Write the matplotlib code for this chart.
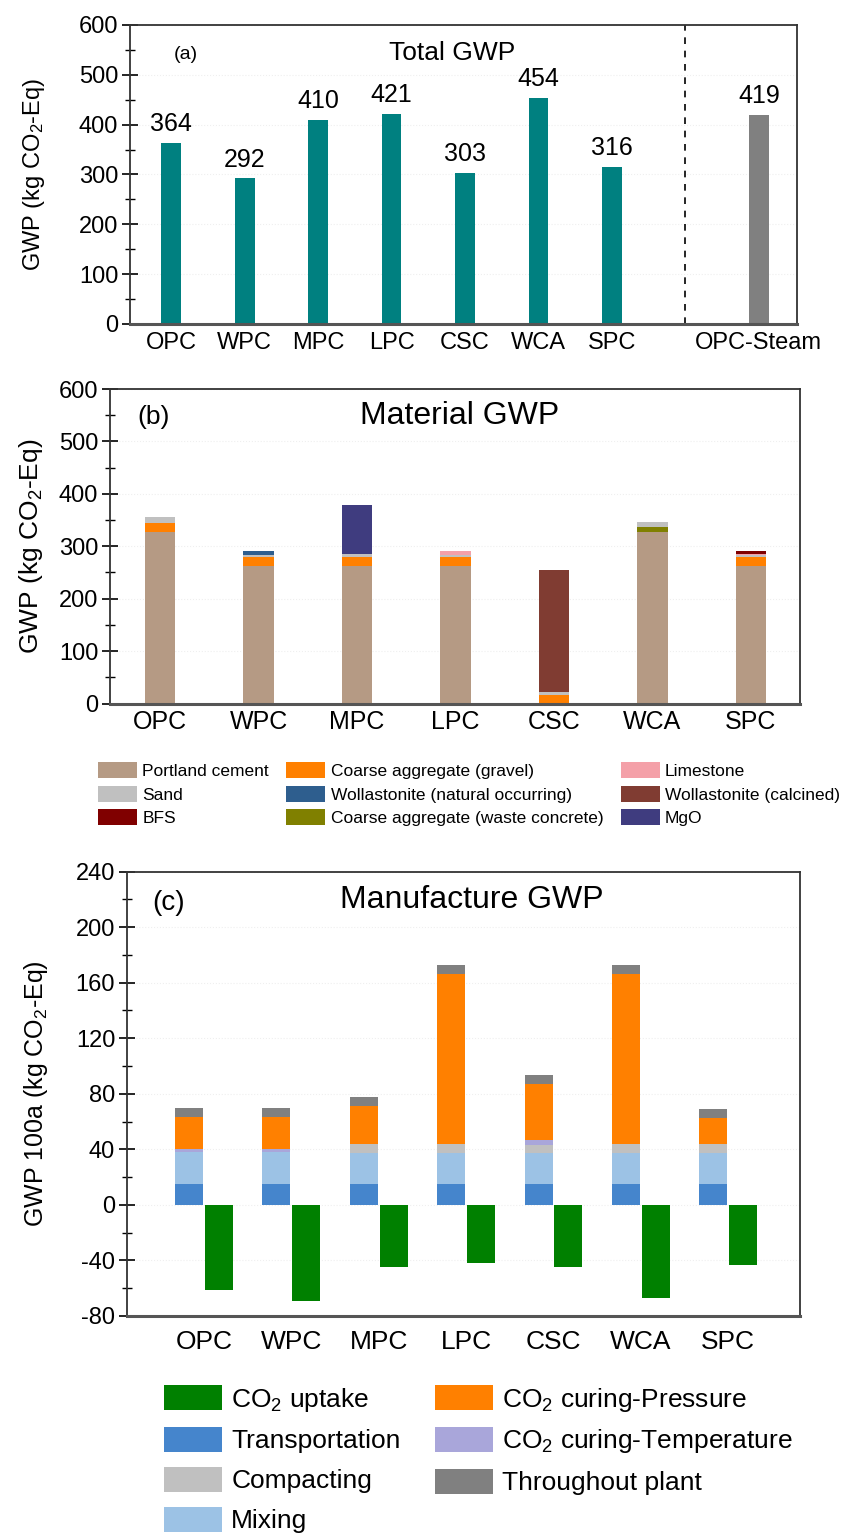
import numpy as np
import matplotlib
matplotlib.use("Agg")
import matplotlib.pyplot as plt
from matplotlib.patches import Patch
from matplotlib.ticker import MultipleLocator

plt.rcParams['font.family'] = ['Liberation Sans', 'DejaVu Sans']
plt.rcParams['mathtext.fontset'] = 'custom'
plt.rcParams['mathtext.rm'] = 'Liberation Sans'
plt.rcParams['mathtext.it'] = 'Liberation Sans:italic'
plt.rcParams['axes.unicode_minus'] = False

cats = ['OPC', 'WPC', 'MPC', 'LPC', 'CSC', 'WCA', 'SPC']

# (a) total GWP
total_gwp = [364, 292, 410, 421, 303, 454, 316]
steam_label = 'OPC-Steam'
steam_gwp = 419

# (b) material GWP, stacked bottom -> top
portland = [328, 263, 263, 263, 0, 327, 263]
gravel = [17, 17, 17, 17, 16, 0, 17]
waste_agg = [0, 0, 0, 0, 0, 10, 0]
sand = [10, 3, 6, 4, 5, 9, 3]
woll_nat = [0, 8, 0, 0, 0, 0, 0]
limestone = [0, 0, 0, 6, 0, 0, 3]
bfs = [0, 0, 0, 0, 0, 0, 5]
woll_calc = [0, 0, 0, 0, 233, 0, 0]
mgo = [0, 0, 92, 0, 0, 0, 0]

# (c) manufacture GWP
transport = [15, 15, 15, 15, 15, 15, 15]
mixing = [23, 23, 22, 22, 22, 22, 22]
compacting = [0, 0, 7, 7, 6, 7, 7]
cure_temp = [2, 2, 0, 0, 4, 0, 0]
cure_press = [23.5, 23.5, 27, 122, 40, 122, 18.5]
plant = [6.5, 6.5, 6.5, 7, 6.5, 7, 6.5]
uptake = [-61, -69, -45, -42, -45, -67, -43]

C_TEAL = '#008080'
C_STEAM = '#808080'
mat_series = [
    ('Portland cement', portland, '#b59a84'),
    ('Coarse aggregate (gravel)', gravel, '#ff8000'),
    ('Coarse aggregate (waste concrete)', waste_agg, '#808000'),
    ('Sand', sand, '#c0c0c0'),
    ('Wollastonite (natural occurring)', woll_nat, '#2e5e8e'),
    ('Limestone', limestone, '#f4a0a8'),
    ('BFS', bfs, '#800000'),
    ('Wollastonite (calcined)', woll_calc, '#803c32'),
    ('MgO', mgo, '#3f3c7f'),
]
mat_colors = {name: c for name, _, c in mat_series}
mat_legend_order = ['Portland cement', 'Sand', 'BFS',
                    'Coarse aggregate (gravel)', 'Wollastonite (natural occurring)',
                    'Coarse aggregate (waste concrete)',
                    'Limestone', 'Wollastonite (calcined)', 'MgO']

man_series = [
    ('Transportation', transport, '#4585cc'),
    ('Mixing', mixing, '#9cc2e5'),
    ('Compacting', compacting, '#c0c0c0'),
    ('CO$_2$ curing-Temperature', cure_temp, '#a9a6da'),
    ('CO$_2$ curing-Pressure', cure_press, '#ff8000'),
    ('Throughout plant', plant, '#808080'),
]
C_UPTAKE = '#008000'

fig = plt.figure(figsize=(8.46, 15.4), dpi=100)
W, H = 846.0, 1540.0


def box(l, t, r, b):
    return [l / W, 1 - b / H, (r - l) / W, (b - t) / H]


def style_axes(ax, minor):
    for s in ax.spines.values():
        s.set_color('#333333')
        s.set_linewidth(1.3)
    ax.spines['bottom'].set_linewidth(2.2)
    ax.spines['bottom'].set_color('#555555')
    ax.yaxis.set_minor_locator(MultipleLocator(minor))
    ax.tick_params(axis='y', which='major', direction='inout', length=11, width=1.2,
                   labelsize=17, pad=3)
    ax.tick_params(axis='y', which='minor', direction='inout', length=7, width=1.0)
    ax.tick_params(axis='x', length=0)
    ax.grid(axis='y', color='#efefef', linewidth=0.8, linestyle=':')
    ax.set_axisbelow(True)


# ---------- (a) ----------
axa = fig.add_axes(box(130, 25, 797, 324))
xa = np.arange(len(cats))
bars = axa.bar(xa, total_gwp, width=0.27, color=C_TEAL)
axa.bar_label(bars, labels=[str(v) for v in total_gwp], padding=5, fontsize=18)
sb = axa.bar([8], [steam_gwp], width=0.27, color=C_STEAM)
axa.bar_label(sb, labels=[str(steam_gwp)], padding=5, fontsize=18)
axa.axvline(7, color='black', linestyle=(0, (4, 4)), linewidth=1.2)
axa.set_xlim(-0.56, 8.52)
axa.set_ylim(0, 600)
axa.yaxis.set_major_locator(MultipleLocator(100))
style_axes(axa, 50)
axa.set_xticks(list(xa) + [8])
axa.set_xticklabels(cats + [steam_label], fontsize=17)
axa.tick_params(axis='x', pad=6)
axa.set_ylabel('GWP (kg CO$_2$-Eq)', fontsize=17)
axa.yaxis.set_label_coords(-0.125, 0.5)
axa.text(0.065, 0.9, '(a)', transform=axa.transAxes, fontsize=14, va='center')
axa.text(0.483, 0.906, 'Total GWP', transform=axa.transAxes, fontsize=19,
         ha='center', va='center')

# ---------- (b) ----------
axb = fig.add_axes(box(110, 389, 800, 703.5))
xb = np.arange(len(cats))
bottom = np.zeros(len(cats))
for name, vals, col in mat_series:
    v = np.array(vals, dtype=float)
    axb.bar(xb, v, width=0.31, bottom=bottom, color=col)
    bottom += v
axb.set_xlim(-0.51, 6.5)
axb.set_ylim(0, 600)
axb.yaxis.set_major_locator(MultipleLocator(100))
style_axes(axb, 50)
axb.set_xticks(xb)
axb.set_xticklabels(cats, fontsize=18)
axb.tick_params(axis='x', pad=5)
axb.set_ylabel('GWP (kg CO$_2$-Eq)', fontsize=19)
axb.yaxis.set_label_coords(-0.094, 0.5)
axb.text(0.04, 0.911, '(b)', transform=axb.transAxes, fontsize=19, va='center')
axb.text(0.507, 0.914, 'Material GWP', transform=axb.transAxes, fontsize=23,
         ha='center', va='center')

mat_handles = [Patch(facecolor=mat_colors[n], label=n) for n in mat_legend_order]
fig.legend(handles=mat_handles, ncol=3, loc='upper left',
           bbox_to_anchor=(98 / W, 1 - 762 / H), frameon=False, fontsize=12.5,
           handlelength=2.25, handleheight=1.05, handletextpad=0.3,
           labelspacing=0.38, columnspacing=1.0, borderpad=0, borderaxespad=0)

# ---------- (c) ----------
axc = fig.add_axes(box(127, 871.5, 800, 1316))
xc = np.arange(len(cats))
bottom = np.zeros(len(cats))
man_handles = {}
for name, vals, col in man_series:
    v = np.array(vals, dtype=float)
    axc.bar(xc - 0.17, v, width=0.32, bottom=bottom, color=col)
    man_handles[name] = Patch(facecolor=col, label=name)
    bottom += v
axc.bar(xc + 0.17, uptake, width=0.32, color=C_UPTAKE)
man_handles['CO$_2$ uptake'] = Patch(facecolor=C_UPTAKE, label='CO$_2$ uptake')
axc.set_xlim(-0.88, 6.82)
axc.set_ylim(-80, 240)
axc.yaxis.set_major_locator(MultipleLocator(40))
style_axes(axc, 20)
axc.set_xticks(xc)
axc.set_xticklabels(cats, fontsize=19)
axc.tick_params(axis='x', pad=10)
axc.set_ylabel('GWP 100a (kg CO$_2$-Eq)', fontsize=18)
axc.yaxis.set_label_coords(-0.114, 0.5)
axc.text(0.037, 0.929, '(c)', transform=axc.transAxes, fontsize=20, va='center')
axc.text(0.513, 0.936, 'Manufacture GWP', transform=axc.transAxes, fontsize=23,
         ha='center', va='center')

man_order = ['CO$_2$ uptake', 'Transportation', 'Compacting', 'Mixing',
             'CO$_2$ curing-Pressure', 'CO$_2$ curing-Temperature', 'Throughout plant']
fig.legend(handles=[man_handles[n] for n in man_order], ncol=2, loc='upper left',
           bbox_to_anchor=(164 / W, 1 - 1385 / H), frameon=False, fontsize=19,
           handlelength=2.2, handleheight=1.1, handletextpad=0.35,
           labelspacing=0.5, columnspacing=1.3, borderpad=0, borderaxespad=0)

fig.savefig('out.png', dpi=100)
